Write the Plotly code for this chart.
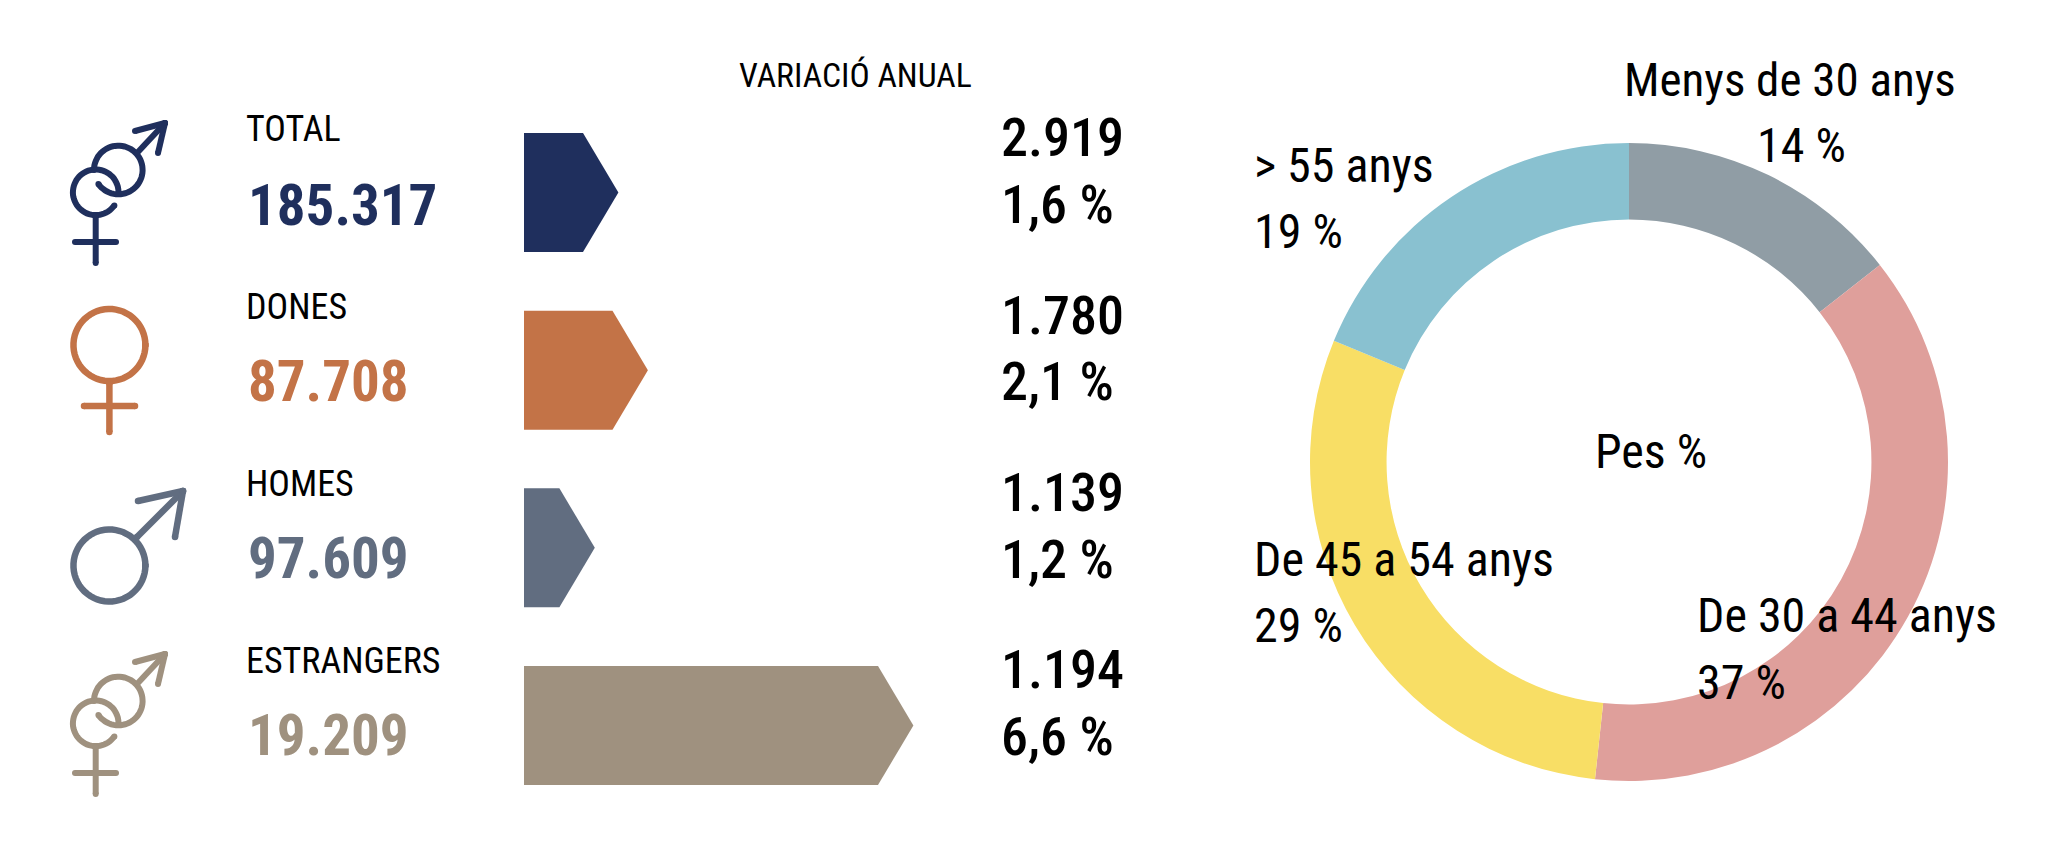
import numpy as np
import plotly.graph_objects as go

# variacio anual
groups = ["TOTAL", "DONES", "HOMES", "ESTRANGERS"]
totals = ["185.317", "87.708", "97.609", "19.209"]
var_abs = ["2.919", "1.780", "1.139", "1.194"]
var_pct = [1.6, 2.1, 1.2, 6.6]
var_pct_labels = ["1,6 %", "2,1 %", "1,2 %", "6,6 %"]
group_colors = ["#1F2F5D", "#C37347", "#616D80", "#9F917F"]

# pes per edat, slice sizes (the printed labels are rounded)
ages = ["Menys de 30 anys", "De 30 a 44 anys", "De 45 a 54 anys", "> 55 anys"]
age_pes = [14.4, 37.3, 29.5, 18.8]
age_labels = ["14 %", "37 %", "29 %", "19 %"]
age_colors = ["#909DA5", "#DF9F9B", "#F8DE65", "#89C1D0"]

FONT = "'Roboto Condensed', 'Liberation Sans'"
NOTCH = 0.6  # length of the arrow tip, in % units
OFF = 8  # browser body margin
W, H = 2067 - 2 * OFF, 850 - 2 * OFF

fig = go.Figure()

# arrow bars, x axis is the % variation
for i, v in enumerate(var_pct):
    fig.add_trace(go.Scatter(
        x=[0, v - NOTCH, v, v - NOTCH, 0, 0],
        y=[i - 0.335, i - 0.335, i, i + 0.335, i + 0.335, i - 0.335],
        mode="lines", fill="toself", fillcolor=group_colors[i],
        line=dict(width=0), name=groups[i], showlegend=False,
    ))

fig.add_trace(go.Pie(
    labels=ages, values=age_pes, hole=0.76, sort=False, direction="clockwise",
    rotation=0, textinfo="none", showlegend=False,
    marker=dict(colors=age_colors, line=dict(width=0)),
    domain=dict(x=[(1629 - 319 - OFF) / W, (1629 + 319 - OFF) / W],
                y=[1 - (462 + 319 - OFF) / H, 1 - (462 - 319 - OFF) / H]),
))


def text(x, y, s, size, color="black", weight=400, anchor="left"):
    fig.add_annotation(
        x=x, y=y, xref="x2", yref="y2", text=s,
        showarrow=False, xanchor=anchor, yanchor="middle", borderpad=0,
        font=dict(family=FONT, size=size, color=color, weight=weight),
    )


def dot(x, y, color, width):
    r = width / 2
    fig.add_shape(type="circle", x0=x - r, y0=y - r, x1=x + r, y1=y + r,
                  xref="x2", yref="y2", fillcolor=color, line=dict(width=0))


def line(x0, y0, x1, y1, color, width=6):
    fig.add_shape(type="line", x0=x0, y0=y0, x1=x1, y1=y1, xref="x2", yref="y2",
                  line=dict(color=color, width=width))
    dot(x0, y0, color, width)
    dot(x1, y1, color, width)


def arc(cx, cy, r, a0, a1, color, width=6):
    # angles in degrees, clockwise on screen from 3 o'clock
    t = np.radians(np.linspace(a0, a1, 60))
    pts = [f"{cx + r * np.cos(a):.1f},{cy + r * np.sin(a):.1f}" for a in t]
    fig.add_shape(type="path", path="M" + " L".join(pts), xref="x2", yref="y2",
                  line=dict(color=color, width=width))
    dot(cx + r * np.cos(t[0]), cy + r * np.sin(t[0]), color, width)
    dot(cx + r * np.cos(t[-1]), cy + r * np.sin(t[-1]), color, width)


def mixed_icon(dy, color):
    arc(95.7, 192.3 + dy, 22.8, 35, 362, color)
    arc(118.3, 170 + dy, 24.3, -180, 145, color)
    line(95.7, 216 + dy, 95.7, 263 + dy, color)
    line(75, 242 + dy, 116, 242 + dy, color)
    line(137, 153 + dy, 165, 123 + dy, color)
    line(135, 131 + dy, 165, 123 + dy, color)
    line(158, 153 + dy, 165, 123 + dy, color)


def female_icon(color):
    arc(109.4, 345, 36, 0, 360, color, 6.5)
    line(109.4, 383, 109.4, 432, color, 6.5)
    line(84, 406, 135, 406, color, 6.5)


def male_icon(color):
    arc(109.4, 565.5, 36, 0, 360, color, 6.5)
    line(137, 537, 183, 491, color, 6.5)
    line(138, 501, 183, 491, color, 6.5)
    line(175, 537, 183, 491, color, 6.5)


mixed_icon(0, group_colors[0])
female_icon(group_colors[1])
male_icon(group_colors[2])
mixed_icon(531, group_colors[3])

text(738, 75, "VARIACIÓ ANUAL", 33.7)

label_y = [129, 307, 484, 661]
total_y = [205, 381, 558, 735]
abs_y = [137, 315, 492, 669]
pct_y = [204, 381, 559, 736]
for i in range(4):
    text(245, label_y[i], groups[i], 36)
    text(247, total_y[i], totals[i], 57, group_colors[i], weight=700)
    text(1000, abs_y[i], var_abs[i], 54, weight=500)
    text(1000, pct_y[i], var_pct_labels[i], 54, weight=500)

text(1623, 79, ages[0], 47)
text(1801, 145, age_labels[0], 48, anchor="center")
text(1253, 165, ages[3], 48)
text(1253, 231, age_labels[3], 48)
text(1253, 559, ages[2], 48)
text(1253, 625, age_labels[2], 48)
text(1696, 615, ages[1], 48)
text(1696, 682, age_labels[1], 48)
text(1594, 451, "Pes %", 48)

fig.update_layout(
    width=W, height=H, margin=dict(l=0, r=0, t=0, b=0),
    paper_bgcolor="white", plot_bgcolor="rgba(0,0,0,0)", showlegend=False,
    # 59 px per % point, starting at the left edge of the bars
    xaxis=dict(domain=[(524 - OFF) / W, (1000 - OFF) / W], range=[0, 476 / 59], visible=False),
    yaxis=dict(domain=[1 - (814.3 - OFF) / H, 1 - (103.7 - OFF) / H], range=[3.5, -0.5], visible=False),
    # page pixels for icons and texts
    xaxis2=dict(domain=[0, 1], range=[OFF, 2067 - OFF], visible=False, anchor="y2"),
    yaxis2=dict(domain=[0, 1], range=[850 - OFF, OFF], visible=False, anchor="x2"),
)

fig.write_html("out.html")
